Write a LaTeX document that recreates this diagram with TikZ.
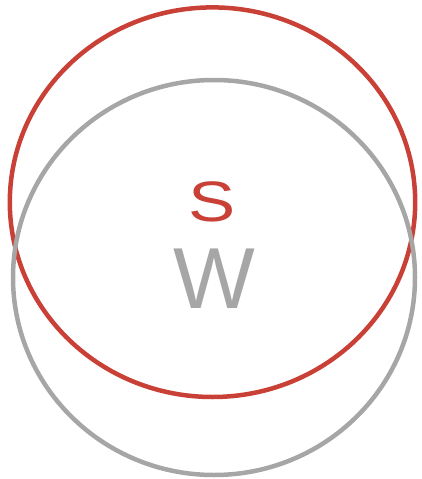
\documentclass[tikz,border=0pt]{standalone}
\usepackage{fontspec}
\setmainfont{Liberation Sans}
\definecolor{swred}{RGB}{200,64,54}
\definecolor{swgray}{RGB}{166,166,166}

\begin{document}
\begin{tikzpicture}[x=1pt, y=-1pt, line width=4.5pt]
\useasboundingbox (0,0) rectangle (421,479);
\draw[swred] (212.5,202.2) ellipse (202.7 and 194.8);
\draw[swgray] (214,277.5) ellipse (201 and 197.5);
\node[swred, inner sep=0, xscale=1.24] (s) at (212.5,202.2) {\fontsize{57}{57}\selectfont S};
\node[swgray, inner sep=0] (w) at (214.5,278.3) {\fontsize{86.6}{86.6}\selectfont W};
\end{tikzpicture}
\end{document}
